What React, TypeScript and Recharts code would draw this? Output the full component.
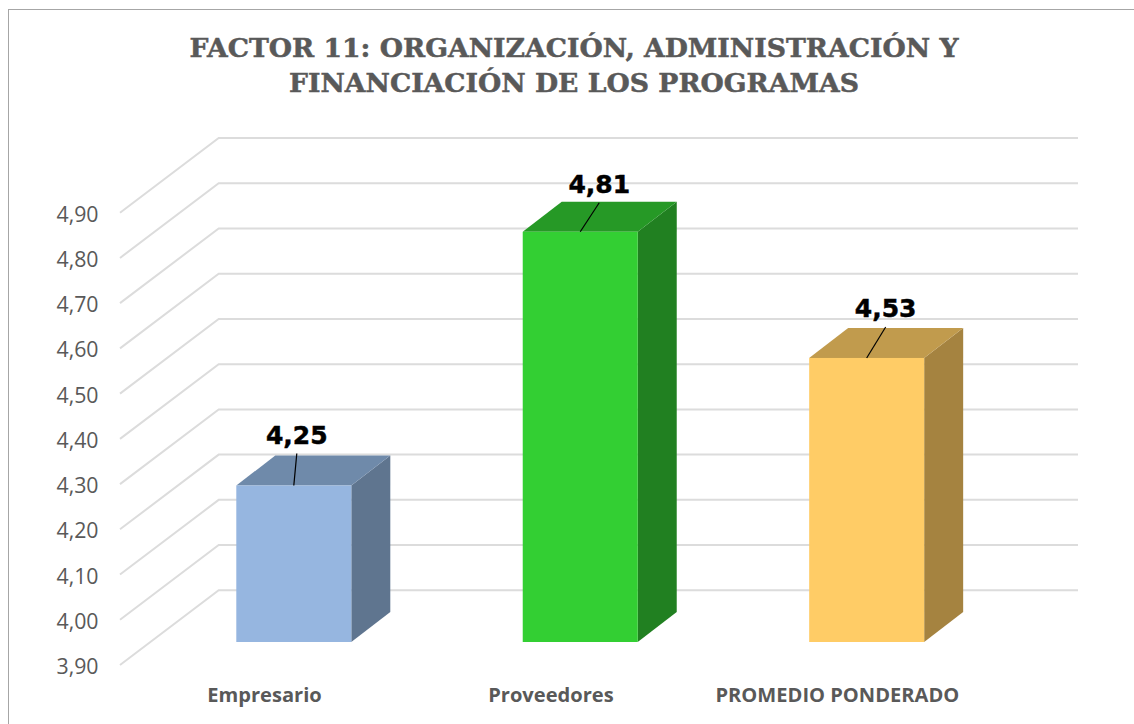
import { BarChart, Bar, XAxis, YAxis, CartesianGrid, LabelList } from "recharts";

const categories = ["Empresario", "Proveedores", "PROMEDIO PONDERADO"];
const values = [4.246, 4.807, 4.528];
const yTicks = [3.9, 4.0, 4.1, 4.2, 4.3, 4.4, 4.5, 4.6, 4.7, 4.8, 4.9];

const frontColors = ["#96B6E0", "#33CF33", "#FFCC66"];
const topColors = ["#6F8AAA", "#269926", "#C19B4D"];
const sideColors = ["#5F758F", "#218021", "#A58340"];

// leader line end, relative to the middle of the bar's top edge
const leaderEnds = [
  [3, -32],
  [19, -29],
  [19, -31],
];

// how far the floor of the 3d box sits from the chart's front plane
const WALL_DX = 98.7;
const WALL_DY = -74.7;
const BAR_DX = 29;
const BAR_DY = -23;
const DEPTH_DX = 39;
const DEPTH_DY = -30;

const data = categories.map((name, i) => ({ name, value: values[i] }));

const formatTick = (v: number) => v.toFixed(2).replace(".", ",");

function GridLine(props: any) {
  const { x1, x2, y1 } = props;
  return (
    <polyline
      points={`${x1},${y1} ${x1 + WALL_DX},${y1 + WALL_DY} ${x2},${y1 + WALL_DY}`}
      fill="none"
      stroke="#DCDCDC"
      strokeWidth={2}
    />
  );
}

function Box3D(props: any) {
  const { width, height, index } = props;
  const x = props.x + BAR_DX;
  const y = props.y + BAR_DY;
  const r = x + width;
  const b = y + height;
  return (
    <g>
      <polygon
        points={`${r},${y} ${r + DEPTH_DX},${y + DEPTH_DY} ${r + DEPTH_DX},${b + DEPTH_DY} ${r},${b}`}
        fill={sideColors[index]}
      />
      <polygon
        points={`${x},${y} ${x + DEPTH_DX},${y + DEPTH_DY} ${r + DEPTH_DX},${y + DEPTH_DY} ${r},${y}`}
        fill={topColors[index]}
      />
      <rect x={x} y={y} width={width} height={height} fill={frontColors[index]} />
    </g>
  );
}

function ValueLabel(props: any) {
  const { x, y, width, value, index } = props;
  const cx = x + BAR_DX + width / 2;
  const top = y + BAR_DY;
  const [dx, dy] = leaderEnds[index];
  return (
    <g>
      <line x1={cx} y1={top} x2={cx + dx} y2={top + dy} stroke="#000" strokeWidth={1.2} />
      <text
        x={cx + dx}
        y={top + dy - 10}
        textAnchor="middle"
        fontFamily="DejaVu Sans"
        fontWeight={700}
        fontSize={25}
        fill="#000"
        stroke="#000"
        strokeWidth={0.5}
      >
        {formatTick(value)}
      </text>
    </g>
  );
}

export default function App() {
  return (
    <div style={{ position: "absolute", left: 0, top: 0, width: 1134, height: 724, background: "#fff", overflow: "hidden" }}>
      <div
        style={{
          position: "absolute",
          left: 8,
          top: 9,
          width: 1126,
          height: 715,
          borderLeft: "1.5px solid #A6A6A6",
          borderTop: "1.5px solid #A6A6A6",
          boxSizing: "border-box",
        }}
      />
      <div
        style={{
          position: "absolute",
          left: 0,
          width: 1148,
          top: 30,
          textAlign: "center",
          fontFamily: "DejaVu Serif",
          fontWeight: 700,
          fontSize: 26.7,
          lineHeight: "35px",
          color: "#595959",
          WebkitTextStroke: "0.5px #595959",
        }}
      >
        FACTOR 11: ORGANIZACIÓN, ADMINISTRACIÓN Y
        <br />
        FINANCIACIÓN DE LOS PROGRAMAS
      </div>
      <div style={{ position: "absolute", left: 0, top: 0 }}>
        <BarChart
          width={1134}
          height={724}
          data={data}
          margin={{ top: 212.7, right: 56, bottom: 0, left: 0 }}
          barSize={115}
        >
          <CartesianGrid vertical={false} horizontal={(p: any) => <GridLine {...p} />} />
          <XAxis
            dataKey="name"
            axisLine={false}
            tickLine={false}
            height={59}
            interval={0}
            tickMargin={17}
            padding={{ left: 1.3, right: 97.4 }}
            tick={{ fontFamily: "Open Sans", fontWeight: 700, fontSize: 20.1, fill: "#595959" }}
          />
          <YAxis
            width={120}
            domain={[3.9, 4.9]}
            ticks={yTicks}
            interval={0}
            axisLine={false}
            tickLine={false}
            tickSize={0}
            tickMargin={21.5}
            tickFormatter={formatTick}
            tick={{ fontFamily: "Open Sans", fontSize: 21.3, fill: "#595959", dy: 1.5 }}
          />
          <Bar dataKey="value" isAnimationActive={false} shape={(p: any) => <Box3D {...p} />}>
            <LabelList dataKey="value" content={(p: any) => <ValueLabel {...p} />} />
          </Bar>
        </BarChart>
      </div>
    </div>
  );
}
